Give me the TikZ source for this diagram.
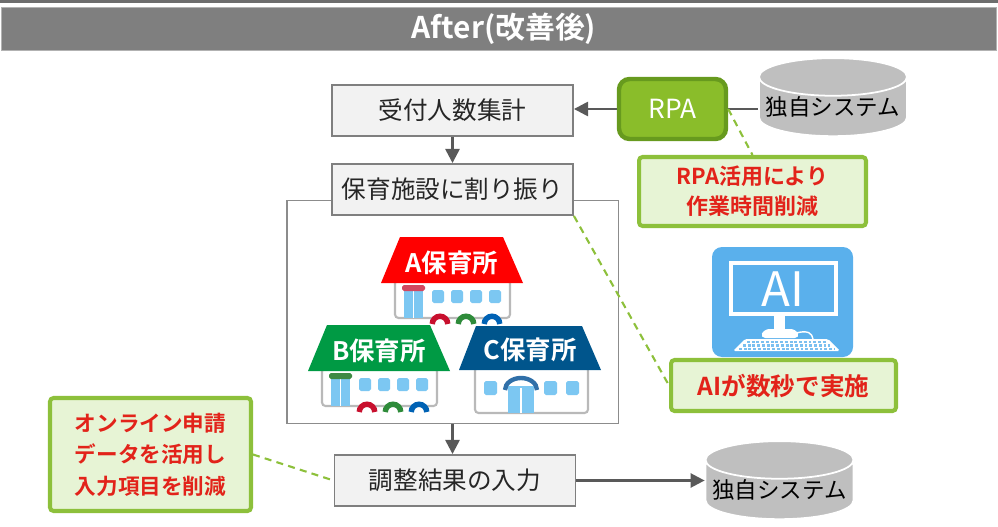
\documentclass[tikz,border=0pt]{standalone}
\usepackage{fontspec}
\setmainfont{Noto Sans CJK JP}[BoldFont={Noto Sans CJK JP Bold}]
\usetikzlibrary{positioning}
\usetikzlibrary{shapes.geometric, arrows.meta}

\definecolor{bandgray}{HTML}{6D6D6D}
\definecolor{titlegray}{HTML}{7F7F7F}
\definecolor{boxgray}{HTML}{F2F2F2}
\definecolor{linegray}{HTML}{7F7F7F}
\definecolor{framegray}{HTML}{8C8C8C}
\definecolor{arrowgray}{HTML}{595959}
\definecolor{rpagreen}{HTML}{8ABD2A}
\definecolor{rpadark}{HTML}{679A1E}
\definecolor{notegreen}{HTML}{8DC03B}
\definecolor{notefill}{HTML}{E7F4D5}
\definecolor{notered}{HTML}{E2231A}
\definecolor{cylgray}{HTML}{BFBFBF}
\definecolor{aiblue}{HTML}{5AB0EC}
\definecolor{winblue}{HTML}{7CC7F2}
\definecolor{roofred}{HTML}{FF0000}
\definecolor{roofgreen}{HTML}{009A44}
\definecolor{roofblue}{HTML}{00558C}
\definecolor{bandpink}{HTML}{D2475F}
\definecolor{bandgreen}{HTML}{3E8A44}
\definecolor{archred}{HTML}{C8102E}
\definecolor{archgreen}{HTML}{2E8B3A}
\definecolor{archblue}{HTML}{0062B4}
\definecolor{archnavy}{HTML}{2F6FA8}

\tikzset{
  stepbox/.style={draw=linegray, line width=1.1pt, fill=boxgray, minimum width=4.82cm, minimum height=1.02cm, text=black!85, font=\fontsize{14}{17}\selectfont},
  framebox/.style={draw=framegray, line width=1.1pt, minimum width=6.64cm, minimum height=4.46cm, inner sep=0pt},
  rpabox/.style={draw=rpadark, line width=2.5pt, fill=rpagreen, rounded corners=6pt, minimum width=2.14cm, minimum height=1.2cm, text=white, font=\fontsize{15}{18}\selectfont},
  db/.style={cylinder, shape border rotate=90, aspect=0.28, draw=white, line width=1pt, fill=cylgray, minimum width=2.96cm, minimum height=1.5cm, inner sep=0pt, text=black, font=\fontsize{12.8}{15}\selectfont},
  memo/.style={draw=notegreen, line width=2.3pt, fill=notefill, rounded corners=2pt, text=notered, align=center},
  flow/.style={draw=arrowgray, line width=1.4pt, -{Triangle[length=8pt,width=8pt]}},
  plain/.style={draw=arrowgray, line width=1.4pt},
  link/.style={draw=notegreen, line width=1.2pt, dash pattern=on 4pt off 3pt},
  hname/.style={text=white, font=\bfseries\fontsize{14.5}{17}\selectfont},
  wall/.style={fill=white, draw=gray!55, line width=1.2pt, rounded corners=2pt}
}

\begin{document}
\begin{tikzpicture}[x=0.02cm,y=-0.02cm]
\useasboundingbox (0,0) rectangle (998,527);

% title band
\fill[bandgray] (0,0) rectangle (998,3);
\draw[fill=titlegray,draw=black!30,very thin] (1,7) rectangle (996,50);
\node[font=\bfseries\fontsize{17}{20}\selectfont,text=white] (title) at (504,29) {After(改善後)};

% frame round the nurseries
\node[framebox] (frame) at (452.5,312) {};

% houses A and B
\foreach \dx/\dy/\roof/\band/\name in {0/0/roofred/bandpink/A, -73/88/roofgreen/bandgreen/B}{
\begin{scope}[shift={(\dx,\dy)}]
\draw[wall] (395,280) rectangle (510,318);
\fill[\roof] (400,237) -- (503,237) -- (523,283) -- (381,283) -- cycle;
\fill[winblue] (404,290) rectangle (423,318);
\draw[white,line width=0.6pt] (413.5,291) -- (413.5,318);
\fill[\band,rounded corners=1pt] (402,285) rectangle (425,291);
\foreach \wx in {432,451,470,489}
  \fill[winblue,rounded corners=1pt] (\wx,290) rectangle ++(12,13);
\foreach \ax/\ac in {440/archred,466/archgreen,492/archblue}
  \draw[\ac,line width=3.1pt] (\ax-7.75,324) arc[start angle=180,end angle=0,radius=0.155cm];
\node[hname] (house\name) at (452,263) {\name 保育所};
\end{scope}
}

% house C
\draw[wall] (475,367) rectangle (588,413);
\fill[roofblue] (476,326) -- (582,326) -- (601,370) -- (459,370) -- cycle;
\foreach \wx in {484,544,566}
  \fill[winblue,rounded corners=1pt] (\wx,381) rectangle ++(13,14);
\fill[winblue] (508,386) rectangle (534,413);
\draw[white,line width=0.6pt] (521,388) -- (521,413);
\draw[archnavy,line width=2.5pt] (505,390) arc[start angle=180,end angle=0,x radius=0.32cm,y radius=0.24cm];
\node[hname] (houseC) at (530,350) {C保育所};

% flow
\node[stepbox] (count) at (452.5,110.5) {受付人数集計};
\node[stepbox] (assign) at (452.5,189.5) {保育施設に割り振り};
\node[stepbox] (input) at (455,480.5) {調整結果の入力};
\node[rpabox] (rpa) at (672.5,109) {RPA};
\node[db] (sys1) at (833,107) {独自システム};
\node[db] (sys2) at (779.5,490) {独自システム};

\draw[flow] (rpa.west) -- (rpa.west -| count.east);
\draw[plain] (rpa.east) -- (rpa.east -| sys1.west);
\draw[flow] (count) -- (assign);
\draw[flow] (frame.south) -- (frame.south |- input.north);
\draw[flow] (input.east) -- (input.east -| sys2.west);

% AI monitor
\fill[aiblue,rounded corners=0.2cm] (712,247) rectangle (853,357);
\draw[white,line width=2.2pt] (731,263) rectangle (836,314);
\node[font=\fontsize{27}{30}\selectfont,text=white] (aitext) at (783,289) {AI};
\fill[white] (774,314) rectangle (785,331);
\fill[white,rounded corners=3pt] (760,338) -- (764,329) -- (796,329) -- (800,338) -- cycle;
\draw[white,line width=0.8pt] (796,333) .. controls (808,330) and (812,333) .. (813,339);
\fill[white,rounded corners=1pt] (745,339) -- (828,339) -- (840,351) -- (733,351) -- cycle;
\foreach \ky/\kl/\kr in {342/747/826, 345.5/743/830, 349/739/834}
  \draw[aiblue!80,line width=1.5pt,dash pattern=on 1.6pt off 1.1pt] (\kl,\ky) -- (\kr,\ky);

% notes
\node[memo,minimum width=4.54cm,minimum height=1.38cm,font=\bfseries\fontsize{12.5}{17}\selectfont] (rpanote) at (752.5,191.5) {RPA活用により\\作業時間削減};
\node[memo,minimum width=4.5cm,minimum height=1.02cm,font=\bfseries\fontsize{14}{17}\selectfont] (ainote) at (783.5,385.5) {AIが数秒で実施};
\node[memo,minimum width=4.02cm,minimum height=2.26cm,font=\bfseries\fontsize{12.3}{18}\selectfont] (webnote) at (150.5,454.5) {オンライン申請\\データを活用し\\入力項目を削減};

\draw[link] (rpa.east) -- (rpanote.north);
\draw[link] (assign.south east) -- (ainote.west);
\draw[link] (webnote.east) -- (input.west);

\end{tikzpicture}
\end{document}
